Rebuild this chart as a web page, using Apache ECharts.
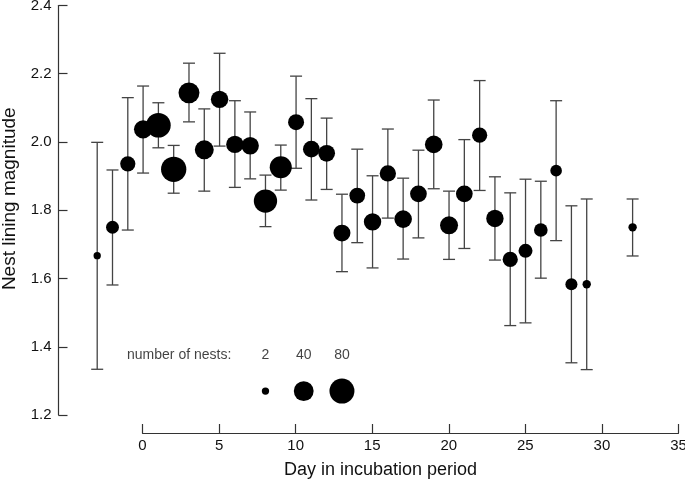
<!DOCTYPE html>
<html><head><meta charset="utf-8">
<script src="https://cdn.jsdelivr.net/npm/echarts@6/dist/echarts.min.js"></script>
<style>html,body{margin:0;padding:0;background:#fff}#c{width:685px;height:484px}</style>
</head><body><div id="c"></div>
<script>
var days  = [-3,-2,-1,0,1,2,3,4,5,6,7,8,9,10,11,12,13,14,15,16,17,18,19,20,21,22,23,24,25,26,27,28,29,32];
var means = [1.667,1.750,1.936,2.037,2.049,1.920,2.144,1.977,2.125,1.993,1.989,1.827,1.926,2.058,1.979,1.967,1.733,1.843,1.766,1.908,1.774,1.848,1.993,1.756,1.848,2.020,1.776,1.656,1.681,1.742,1.916,1.583,1.583,1.750];
var upper = [1.999,1.918,2.130,2.164,2.115,1.990,2.231,2.097,2.260,2.121,2.088,1.903,1.991,2.193,2.127,2.070,1.847,1.979,1.901,2.038,1.894,1.976,2.123,1.856,2.007,2.180,1.898,1.851,1.891,1.885,2.121,1.813,1.833,1.833];
var lower = [1.334,1.581,1.742,1.909,1.983,1.850,2.059,1.856,1.988,1.867,1.892,1.752,1.859,1.923,1.830,1.861,1.620,1.705,1.631,1.777,1.657,1.719,1.863,1.656,1.688,1.858,1.654,1.462,1.470,1.601,1.711,1.353,1.333,1.666];
var nests = [2,11,18,31,77,83,47,35,27,27,27,65,55,21,24,24,25,20,27,22,28,24,28,30,24,18,27,18,14,13,8,9,3,3];

var legendTitle = 'number of nests:';
var legendN = [2,40,80];
var legendDays = [8,10.5,13];
var legendY = 1.27;
var legendLabelY = 1.374;
var legendTitleDay = -1.05;

var xTicks = [0,5,10,15,20,25,30,35];
var yTicks = [1.2,1.4,1.6,1.8,2.0,2.2,2.4];

var FONT = 'Liberation Sans, Arial, Helvetica, sans-serif';
function sz(n){ return 5.8*Math.cbrt(n); }

var errData = days.map(function(d,i){ return [d, lower[i], upper[i]]; });
var ptData = days.map(function(d,i){ return [d, means[i], nests[i]]; });
var legData = legendDays.map(function(d,i){ return [d, legendY, legendN[i]]; });
var labData = [{value:[legendTitleDay, legendLabelY, legendTitle], label:{align:'left'}}].concat(
  legendDays.map(function(d,i){ return {value:[d, legendLabelY, String(legendN[i])]}; }));

var chart = echarts.init(document.getElementById('c'), null, {renderer:'canvas'});
chart.setOption({
  animation:false,
  backgroundColor:'#fff',
  grid:[
    {left:58.5, right:6.5, top:5.5, bottom:69, containLabel:false, outerBoundsMode:'none'},
    {left:142.5, right:6.5, top:423, bottom:51, containLabel:false, outerBoundsMode:'none'}
  ],
  xAxis:[
    {gridIndex:0, type:'value', min:-5.53, max:35, show:false},
    {gridIndex:1, type:'value', min:xTicks[0], max:xTicks[xTicks.length-1], interval:5,
     axisLine:{show:true, onZero:false, lineStyle:{color:'#333', width:1.2}},
     axisTick:{show:true, inside:true, length:9, lineStyle:{color:'#333', width:1.2}},
     axisLabel:{show:true, margin:5, fontSize:15, color:'#111', fontFamily:FONT},
     splitLine:{show:false},
     name:'Day in incubation period', nameLocation:'middle', nameGap:28,
     nameTextStyle:{fontSize:18, color:'#111', fontFamily:FONT, padding:[0,60,0,0]}}
  ],
  yAxis:[
    {gridIndex:0, type:'value', min:yTicks[0], max:yTicks[yTicks.length-1], interval:0.2,
     axisLine:{show:true, onZero:false, lineStyle:{color:'#333', width:1.2}},
     axisTick:{show:true, inside:true, length:9, lineStyle:{color:'#333', width:1.2}},
     axisLabel:{show:true, margin:7, fontSize:15, color:'#111', fontFamily:FONT,
       formatter:function(v){ return v.toFixed(1); }},
     splitLine:{show:false},
     name:'Nest lining magnitude', nameLocation:'middle', nameGap:36,
     nameTextStyle:{fontSize:19, color:'#111', fontFamily:FONT, padding:[0,0,0,23]}},
    {gridIndex:1, type:'value', show:false, min:0, max:1}
  ],
  series:[
    {type:'custom', xAxisIndex:0, yAxisIndex:0, z:1, data:errData,
     renderItem:function(params, api){
       var x = api.value(0);
       var p1 = api.coord([x, api.value(1)]);
       var p2 = api.coord([x, api.value(2)]);
       var hw = 6;
       var st = {stroke:'#444', lineWidth:1.3};
       return {type:'group', children:[
         {type:'line', shape:{x1:p1[0], y1:p1[1], x2:p2[0], y2:p2[1]}, style:st},
         {type:'line', shape:{x1:p1[0]-hw, y1:p1[1], x2:p1[0]+hw, y2:p1[1]}, style:st},
         {type:'line', shape:{x1:p2[0]-hw, y1:p2[1], x2:p2[0]+hw, y2:p2[1]}, style:st}
       ]};
     }},
    {type:'scatter', xAxisIndex:0, yAxisIndex:0, z:3, data:ptData,
     symbol:'circle', symbolSize:function(v){ return sz(v[2]); },
     itemStyle:{color:'#000', opacity:1}},
    {type:'scatter', xAxisIndex:0, yAxisIndex:0, z:3, data:legData,
     symbol:'circle', symbolSize:function(v){ return sz(v[2]); },
     itemStyle:{color:'#000', opacity:1}},
    {type:'scatter', xAxisIndex:0, yAxisIndex:0, z:3, data:labData,
     symbolSize:0, itemStyle:{color:'transparent'},
     label:{show:true, position:'inside', fontSize:14, color:'#111', fontFamily:FONT,
       formatter:function(p){ return p.value[2]; }}}
  ]
});
</script></body></html>
